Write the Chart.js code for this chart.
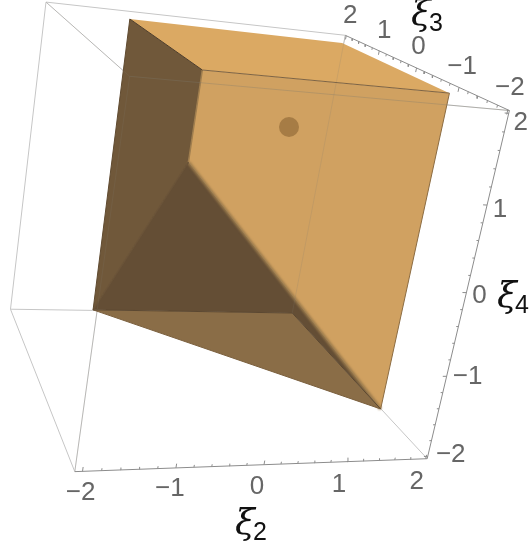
<!DOCTYPE html>
<html>
<head>
<meta charset="utf-8">
<style>body { margin: 0; background: #fff; }</style>
<script src="https://cdn.jsdelivr.net/npm/chart.js@4"></script>
</head>
<body>
<canvas id="chart" width="531" height="552"></canvas>
<script>
// polytope vertices
const vertexXi2 = [-1.12, 1.74, 1.77, -1.11, -0.97, 1.98, 1.99, -1.05];
const vertexXi3 = [1.60, 1.52, -1.23, -1.24, 1.98, -0.91, 1.97, -1.09];
const vertexXi4 = [2, 2, 2, 2, -2, -2, -2, 1];

const faceTop = [0, 1, 2, 3];
const faceRight = [3, 2, 5, 7];
const faceLeft = [0, 3, 7, 4];
const faceInner = [4, 7, 5, 6];
const faceBottom = [4, 6, 5];

const markerPoint = [0.884, 0.817, 1];

// plot box limits
const boxXi2 = [-2.08, 2.02];
const boxXi3 = [-2.03, 2.03];
const boxXi4 = [-2.03, 2.03];

const tickLabels = [-2, -1, 0, 1, 2];
const minorTicks = [-1.8, -1.6, -1.4, -1.2, -0.8, -0.6, -0.4, -0.2, 0.2, 0.4, 0.6, 0.8, 1.2, 1.4, 1.6, 1.8];

// camera fitted to the box corners
const cam = [
  84.68024, -12.85214, 8.83792, 231.93016,
  9.32296, -13.94443, -84.83887, 222.07617,
  0.02621, 0.06551, -0.0209,
];

function project(a, b, c) {
  const w = cam[8] * a + cam[9] * b + cam[10] * c + 1;
  return {
    x: (cam[0] * a + cam[1] * b + cam[2] * c + cam[3]) / w,
    y: (cam[4] * a + cam[5] * b + cam[6] * c + cam[7]) / w,
  };
}

function vertex(i) {
  return project(vertexXi2[i], vertexXi3[i], vertexXi4[i]);
}

function face(list, color) {
  const pts = list.concat(list[0]).map(vertex);
  return { data: pts, showLine: true, fill: 'shape', backgroundColor: color, borderWidth: 0, pointRadius: 0 };
}

function line(pts, color, width, soft) {
  return { data: pts, showLine: true, fill: false, borderColor: color, borderWidth: width || 1, pointRadius: 0, soft: soft || 0 };
}

const [a0, a1] = boxXi2;
const [b0, b1] = boxXi3;
const [c0, c1] = boxXi4;
const cornerA = project(a0, b1, c1);
const cornerC = project(a1, b1, c1);
const cornerB = project(a1, b0, c1);
const cornerD = project(a0, b0, c1);
const cornerE = project(a0, b1, c0);
const cornerH = project(a1, b1, c0);
const cornerG = project(a1, b0, c0);
const cornerF = project(a0, b0, c0);

const boxColor = '#c6c6c6';
const axisColor = '#8c8c8c';
const ghostColor = 'rgba(125, 120, 110, 0.32)';
const ghostFaint = 'rgba(125, 120, 110, 0.18)';

function tickMarks(values, size) {
  const pts = [];
  values.forEach((t) => {
    pts.push(project(t, b0, c0), project(t, b0, c0 + size), { x: NaN, y: NaN });
    pts.push(project(a1, t, c1), project(a1, t, c1 - size), { x: NaN, y: NaN });
    pts.push(project(a1, b0, t), project(a1 - size, b0, t), { x: NaN, y: NaN });
  });
  return pts;
}

// paint order, back to front
const layers = [
  line([cornerA, cornerC], boxColor),
  line([cornerA, cornerD], boxColor),
  line([cornerA, cornerE], boxColor),
  line([cornerE, cornerF], boxColor),
  line([cornerE, cornerH], boxColor),
  line([cornerH, cornerG], boxColor),
  line([cornerD, cornerF], boxColor),
  line([cornerD, cornerB], boxColor),
  line([cornerC, cornerH], boxColor),
  line([cornerC, cornerB], axisColor),
  line([cornerB, cornerG], axisColor),
  line([cornerF, cornerG], axisColor),
  line(tickMarks(tickLabels, 0.05), axisColor),
  line(tickMarks(minorTicks, 0.028), axisColor),
  face(faceRight, '#d0a161'),
  face(faceTop, '#dba963'),
  face(faceLeft, '#70583a'),
  face(faceInner, '#644e35'),
  line([vertex(7), vertex(5)], '#9a7a4b', 3, 1.2),
  line([vertex(3), vertex(7)], '#a07e4e', 1.5, 0.7),
  line([vertex(7), vertex(4)], '#6a5338', 1.5, 0.7),
  face(faceBottom, '#8a6d47'),
  line([cornerD, cornerB], ghostColor),
  line([cornerD, cornerF], ghostFaint),
  line([cornerC, cornerH], ghostFaint),
  line([cornerA, cornerD], ghostFaint),
  line([vertex(0), vertex(3)], '#4e3c27'),
  line([vertex(3), vertex(2)], '#7d6343'),
  line([vertex(0), vertex(4)], '#5f4a30'),
  line([vertex(2), vertex(5)], '#8c6c42'),
  line([vertex(4), vertex(5)], '#7a5f3d'),
  line([vertex(4), vertex(6)], '#5b4730'),
  line([vertex(6), vertex(5)], '#5b4730'),
  {
    data: [project(...markerPoint)],
    pointRadius: 10,
    pointBackgroundColor: '#a67c45',
    pointBorderWidth: 0,
  },
];

const labelOffsetXi2 = [[-2, 21], [-6, 21], [-7, 22], [-8, 23], [-9, 23]];
const labelOffsetXi3 = [[2, -22], [3, -21], [2, -21], [5, -20], [4, -20]];
const labelOffsetXi4 = [[23, -2], [21, 1], [13, 3], [13, 5], [12, 9]];

const softEdges = {
  id: 'softEdges',
  beforeDatasetDraw(chart, args) {
    const soft = chart.data.datasets[args.index].soft;
    if (soft) {
      chart.ctx.save();
      chart.ctx.filter = `blur(${soft}px)`;
    }
  },
  afterDatasetDraw(chart, args) {
    if (chart.data.datasets[args.index].soft) chart.ctx.restore();
  },
};

function tickText(v) {
  return v < 0 ? `\u2212${-v}` : `${v}`;
}

const axisText = {
  id: 'axisText',
  afterDraw(chart) {
    const { ctx, scales } = chart;
    const put = (text, x, y) => ctx.fillText(text, scales.x.getPixelForValue(x), scales.y.getPixelForValue(y));
    ctx.save();
    ctx.textAlign = 'center';
    ctx.textBaseline = 'middle';
    ctx.fillStyle = '#666';
    ctx.font = '26px "Liberation Sans"';
    tickLabels.forEach((t, i) => {
      let p = project(t, b0, c0);
      put(tickText(t), p.x + labelOffsetXi2[i][0], p.y + labelOffsetXi2[i][1]);
      p = project(a1, t, c1);
      put(tickText(t), p.x + labelOffsetXi3[i][0], p.y + labelOffsetXi3[i][1]);
      p = project(a1, b0, t);
      put(tickText(t), p.x + labelOffsetXi4[i][0], p.y + labelOffsetXi4[i][1]);
    });
    ctx.fillStyle = '#111';
    [['2', 245, 525], ['3', 421, 16], ['4', 507, 298]].forEach(([n, x, y]) => {
      ctx.font = 'italic 36px "DejaVu Serif"';
      put('\u03be', x, y);
      ctx.font = '25px "Liberation Sans"';
      put(n, x + 15, y + 8);
    });
    ctx.restore();
  },
};

new Chart(document.getElementById('chart'), {
  type: 'scatter',
  data: { datasets: layers.map((d, i) => ({ ...d, order: layers.length - i, clip: false, tension: 0 })) },
  options: {
    responsive: false,
    animation: false,
    layout: { padding: 0, autoPadding: false },
    plugins: { legend: { display: false }, tooltip: { enabled: false } },
    scales: {
      x: { type: 'linear', min: 0, max: 531, display: false },
      y: { type: 'linear', min: 0, max: 552, reverse: true, display: false },
    },
  },
  plugins: [softEdges, axisText],
});
</script>
</body>
</html>
